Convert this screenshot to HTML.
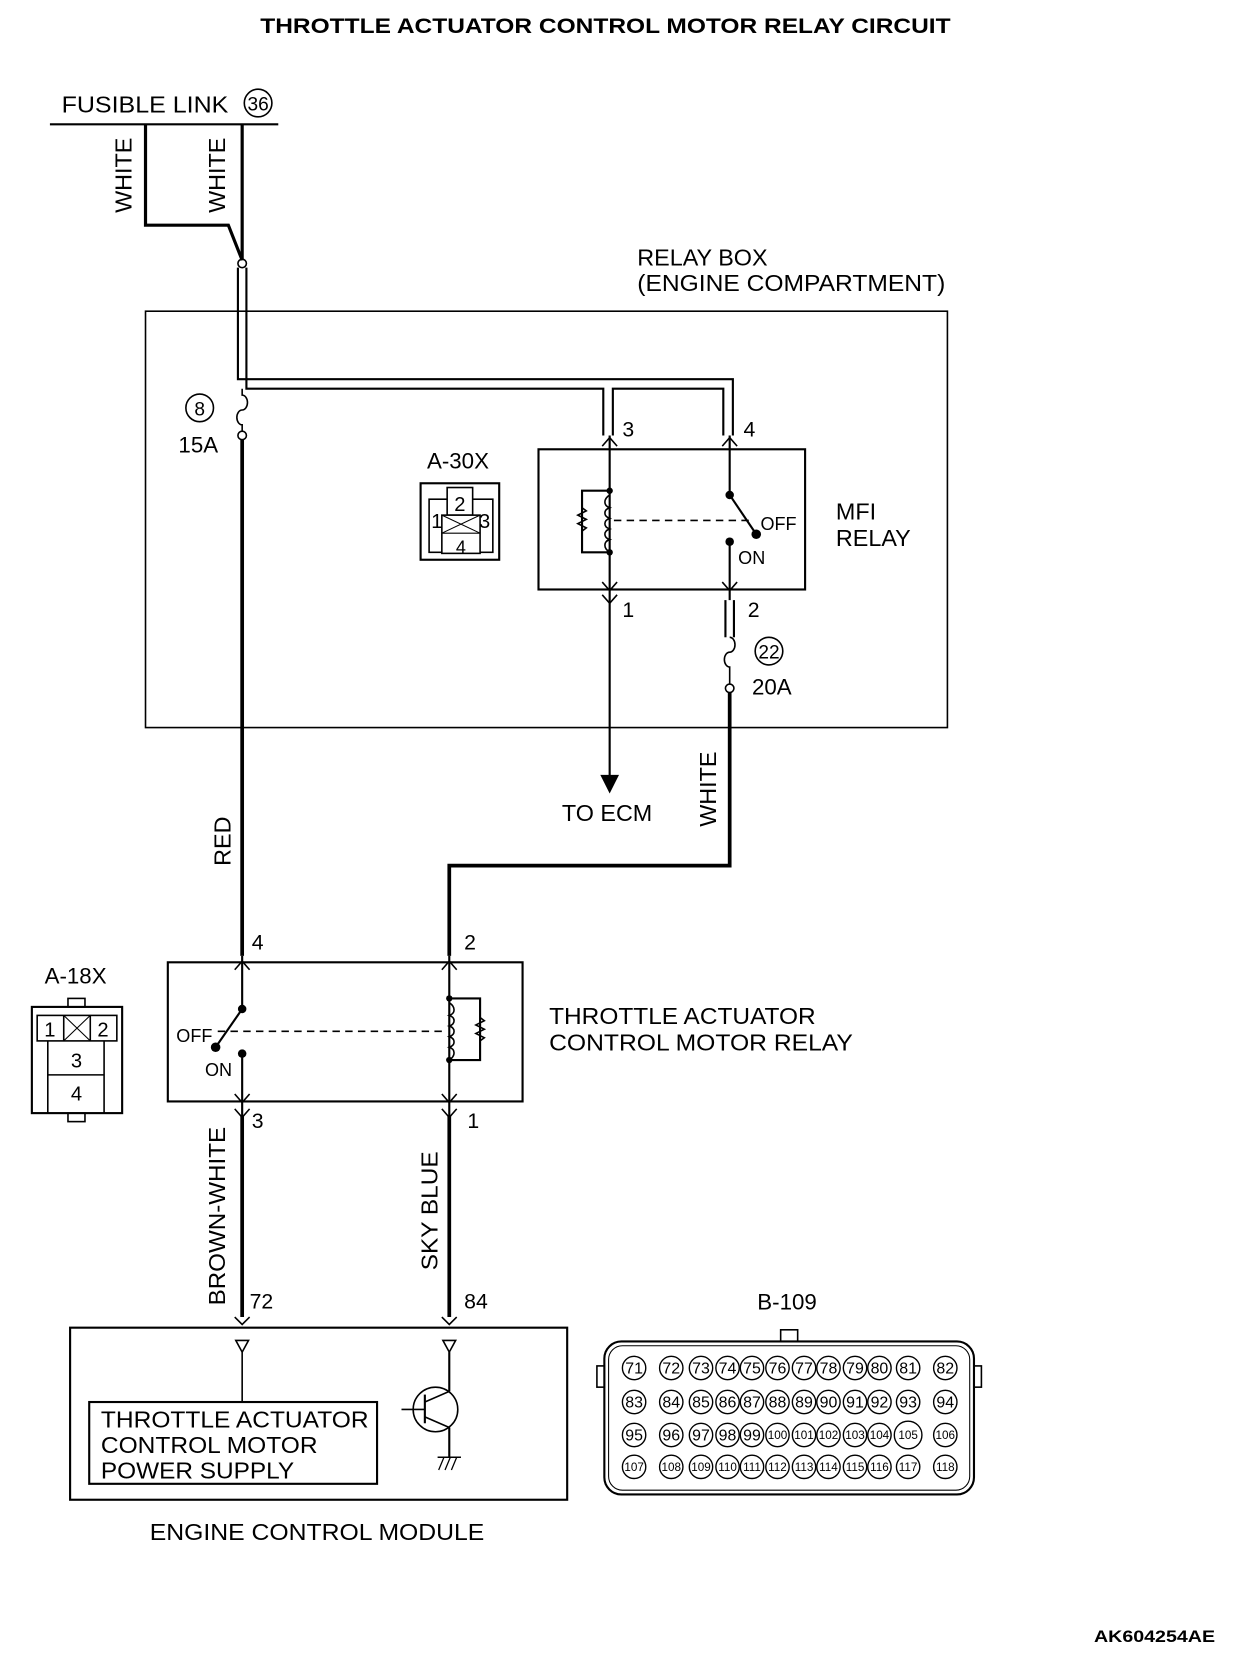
<!DOCTYPE html>
<html><head><meta charset="utf-8"><style>
html,body{margin:0;padding:0;background:#fff;}
svg{display:block;}
text{font-family:"Liberation Sans",sans-serif;fill:#000;}
</style></head><body>
<svg width="1248" height="1658" viewBox="0 0 1175 1561" preserveAspectRatio="none" xmlns="http://www.w3.org/2000/svg">
<g fill="none" stroke="#000">
<line x1="47" y1="117" x2="262" y2="117" stroke-width="2"/>
<circle cx="243" cy="97" r="13" stroke-width="1.5"/>
<polyline points="137,117 137,212 215,212 228,245" stroke-width="3"/>
<line x1="228" y1="117" x2="228" y2="245" stroke-width="3"/>
<circle cx="228" cy="248" r="4" stroke-width="1.5"/>
<polyline points="224,252 224,357 690,357 690,410" stroke-width="2"/>
<polyline points="232,252 232,366 568,366 568,410" stroke-width="2"/>
<polyline points="577,410 577,366 681,366 681,410" stroke-width="2"/>
<path d="M228,366 L228,372 A5,7 0 0 1 228,386 A5,7 0 0 0 228,400 L228,406" stroke-width="1.5"/>
<circle cx="228" cy="410" r="4" stroke-width="1.5"/>
<line x1="228" y1="414" x2="228" y2="900" stroke-width="3.5"/>
<circle cx="188" cy="384" r="13" stroke-width="1.5"/>
<rect x="137" y="293" width="755" height="392" stroke-width="1.5"/>
<rect x="396" y="455" width="74" height="72" stroke-width="2"/>
<rect x="404" y="470" width="60" height="50" stroke-width="1.5"/>
<rect x="421" y="459" width="24" height="26" stroke-width="1.5" fill="#fff"/>
<rect x="416" y="485" width="36" height="36" stroke-width="1.5" fill="#fff"/>
<line x1="416" y1="485" x2="452" y2="502" stroke-width="1"/>
<line x1="452" y1="485" x2="416" y2="502" stroke-width="1"/>
<line x1="416" y1="502" x2="452" y2="502" stroke-width="1"/>
<rect x="507" y="423" width="251" height="132" stroke-width="2"/>
<line x1="574" y1="410" x2="574" y2="735" stroke-width="2"/>
<polyline points="567,420 574,412 581,420" stroke-width="1.5"/>
<polyline points="567,548 574,556 581,548" stroke-width="1.5"/>
<polyline points="567,560 574,568 581,560" stroke-width="1.5"/>
<polygon points="566,730 582,730 574,746" fill="#000"/>
<polyline points="574,462 548,462 548,520 574,520" stroke-width="2"/>
<path d="M548,478 l4,3 -8,4 8,4 -8,4 8,4 -4,3" stroke-width="1.5"/>
<path d="M574,466 c-6,4 -6,10 0,12 c-6,2 -6,8 0,10 c-6,2 -6,8 0,10 c-6,2 -6,8 0,10 c-6,2 -6,8 0,12" stroke-width="1.5"/>
<line x1="578" y1="490" x2="705" y2="490" stroke-width="1.5" stroke-dasharray="7,5"/>
<line x1="687" y1="410" x2="687" y2="466" stroke-width="2"/>
<line x1="687" y1="466" x2="712" y2="503" stroke-width="2"/>
<line x1="687" y1="510" x2="687" y2="565" stroke-width="2"/>
<polyline points="680,420 687,412 694,420" stroke-width="1.5"/>
<polyline points="680,548 687,556 694,548" stroke-width="1.5"/>
<line x1="683" y1="565" x2="683" y2="600" stroke-width="2"/>
<line x1="691" y1="565" x2="691" y2="600" stroke-width="2"/>
<path d="M687,600 A5,7 0 0 1 687,614 A5,7 0 0 0 687,628 L687,644" stroke-width="1.5"/>
<circle cx="687" cy="648" r="4" stroke-width="1.5"/>
<circle cx="724" cy="613" r="13" stroke-width="1.5"/>
<polyline points="687,652 687,815 423,815 423,900" stroke-width="3.5"/>
<rect x="158" y="906" width="334" height="131" stroke-width="2"/>
<polyline points="221,913 228,905 235,913" stroke-width="1.5"/>
<polyline points="416,913 423,905 430,913" stroke-width="1.5"/>
<polyline points="221,1030 228,1038 235,1030" stroke-width="1.5"/>
<polyline points="416,1030 423,1038 430,1030" stroke-width="1.5"/>
<polyline points="221,1044 228,1052 235,1044" stroke-width="1.5"/>
<polyline points="416,1044 423,1052 430,1044" stroke-width="1.5"/>
<line x1="228" y1="900" x2="228" y2="950" stroke-width="2"/>
<line x1="228" y1="950" x2="203" y2="986" stroke-width="2"/>
<line x1="228" y1="992" x2="228" y2="1240" stroke-width="2"/>
<line x1="228" y1="1050" x2="228" y2="1240" stroke-width="3.5"/>
<line x1="205" y1="971" x2="420" y2="971" stroke-width="1.5" stroke-dasharray="7,5"/>
<line x1="423" y1="900" x2="423" y2="1240" stroke-width="2"/>
<line x1="423" y1="1050" x2="423" y2="1240" stroke-width="3.5"/>
<polyline points="423,940 452,940 452,998 423,998" stroke-width="2"/>
<path d="M452,958 l4,3 -8,4 8,4 -8,4 8,4 -4,3" stroke-width="1.5"/>
<path d="M423,944 c6,4 6,10 0,12 c6,2 6,8 0,10 c6,2 6,8 0,10 c6,2 6,8 0,10 c6,2 6,8 0,12" stroke-width="1.5"/>
<rect x="30" y="948" width="85" height="100" stroke-width="2"/>
<rect x="64" y="940" width="16" height="8" stroke-width="1.5"/>
<rect x="64" y="1048" width="16" height="8" stroke-width="1.5"/>
<rect x="35" y="956" width="75" height="24" stroke-width="1.5"/>
<line x1="60" y1="956" x2="60" y2="980" stroke-width="1.5"/>
<line x1="85" y1="956" x2="85" y2="980" stroke-width="1.5"/>
<line x1="60" y1="956" x2="85" y2="980" stroke-width="1"/>
<line x1="85" y1="956" x2="60" y2="980" stroke-width="1"/>
<polyline points="45,980 45,1048" stroke-width="1.5"/>
<polyline points="98,980 98,1048" stroke-width="1.5"/>
<line x1="45" y1="1012" x2="98" y2="1012" stroke-width="1.5"/>
<polyline points="221,1240 228,1247 235,1240" stroke-width="1.5"/>
<polyline points="416,1240 423,1247 430,1240" stroke-width="1.5"/>
<rect x="66" y="1250" width="468" height="162" stroke-width="2"/>
<polygon points="222,1262 234,1262 228,1273" stroke-width="1.5"/>
<polygon points="417,1262 429,1262 423,1273" stroke-width="1.5"/>
<line x1="228" y1="1273" x2="228" y2="1320" stroke-width="1.5"/>
<rect x="84" y="1320" width="271" height="77" stroke-width="2"/>
<line x1="423" y1="1273" x2="423" y2="1310" stroke-width="2"/>
<circle cx="410" cy="1327" r="21" stroke-width="1.5"/>
<line x1="400" y1="1313" x2="400" y2="1340" stroke-width="2"/>
<line x1="378" y1="1327" x2="400" y2="1327" stroke-width="1.5"/>
<line x1="400" y1="1320" x2="423" y2="1310" stroke-width="1.5"/>
<line x1="400" y1="1334" x2="423" y2="1344" stroke-width="1.5"/>
<line x1="423" y1="1344" x2="423" y2="1372" stroke-width="2"/>
<line x1="412" y1="1372" x2="434" y2="1372" stroke-width="1.5"/>
<path d="M413,1384 l5,-12 M419,1384 l5,-12 M425,1384 l5,-12" stroke-width="1.2"/>
<rect x="735" y="1252" width="16" height="11" stroke-width="1.5"/>
<rect x="569" y="1263" width="348" height="144" rx="16" stroke-width="2"/>
<rect x="573" y="1267" width="340" height="136" rx="13" stroke-width="1"/>
<rect x="562" y="1286" width="7" height="20" stroke-width="1.5"/>
<rect x="917" y="1286" width="7" height="20" stroke-width="1.5"/>
</g>
<g fill="#000">
<circle cx="574" cy="462" r="3"/><circle cx="574" cy="520" r="3"/>
<circle cx="687" cy="466" r="4"/><circle cx="712" cy="503" r="4.5"/><circle cx="687" cy="510" r="4"/>
<circle cx="228" cy="950" r="4"/><circle cx="203" cy="986" r="4.5"/><circle cx="228" cy="992" r="4"/>
<circle cx="423" cy="940" r="3"/><circle cx="423" cy="998" r="3"/>
</g>
<text x="570" y="31" font-size="20" font-weight="bold" text-anchor="middle" textLength="650" lengthAdjust="spacingAndGlyphs">THROTTLE ACTUATOR CONTROL MOTOR RELAY CIRCUIT</text>
<text x="58" y="106" font-size="22" textLength="157" lengthAdjust="spacingAndGlyphs">FUSIBLE LINK</text>
<text x="243" y="104" font-size="18" text-anchor="middle">36</text>
<text transform="translate(124,165) rotate(-90)" font-size="22" text-anchor="middle">WHITE</text>
<text transform="translate(212,165) rotate(-90)" font-size="22" text-anchor="middle">WHITE</text>
<text x="600" y="250" font-size="22">RELAY BOX</text>
<text x="600" y="274" font-size="22" textLength="290" lengthAdjust="spacingAndGlyphs">(ENGINE COMPARTMENT)</text>
<text x="188" y="391" font-size="18" text-anchor="middle">8</text>
<text x="168" y="426" font-size="21">15A</text>
<text x="402" y="441" font-size="21">A-30X</text>
<text x="433" y="481" font-size="19" text-anchor="middle">2</text>
<text x="406" y="497" font-size="19">1</text>
<text x="451" y="497" font-size="19">3</text>
<text x="434" y="521" font-size="17" text-anchor="middle">4</text>
<text x="586" y="411" font-size="20">3</text>
<text x="700" y="411" font-size="20">4</text>
<text x="586" y="581" font-size="20">1</text>
<text x="704" y="581" font-size="20">2</text>
<text x="716" y="499" font-size="17">OFF</text>
<text x="695" y="531" font-size="17">ON</text>
<text x="787" y="489" font-size="22">MFI</text>
<text x="787" y="514" font-size="22">RELAY</text>
<text x="724" y="620" font-size="18" text-anchor="middle">22</text>
<text x="708" y="654" font-size="21">20A</text>
<text x="529" y="773" font-size="22">TO ECM</text>
<text transform="translate(674,743) rotate(-90)" font-size="22" text-anchor="middle">WHITE</text>
<text transform="translate(217,792) rotate(-90)" font-size="22" text-anchor="middle">RED</text>
<text x="237" y="894" font-size="20">4</text>
<text x="437" y="894" font-size="20">2</text>
<text x="237" y="1062" font-size="20">3</text>
<text x="440" y="1062" font-size="20">1</text>
<text x="166" y="981" font-size="17">OFF</text>
<text x="193" y="1013" font-size="17">ON</text>
<text x="517" y="964" font-size="22" textLength="251" lengthAdjust="spacingAndGlyphs">THROTTLE ACTUATOR</text>
<text x="517" y="989" font-size="22" textLength="286" lengthAdjust="spacingAndGlyphs">CONTROL MOTOR RELAY</text>
<text x="42" y="926" font-size="21">A-18X</text>
<text x="47" y="976" font-size="19" text-anchor="middle">1</text>
<text x="97" y="976" font-size="19" text-anchor="middle">2</text>
<text x="72" y="1005" font-size="19" text-anchor="middle">3</text>
<text x="72" y="1036" font-size="19" text-anchor="middle">4</text>
<text transform="translate(212,1145) rotate(-90)" font-size="22" text-anchor="middle" textLength="168" lengthAdjust="spacingAndGlyphs">BROWN-WHITE</text>
<text transform="translate(412,1140) rotate(-90)" font-size="22" text-anchor="middle" textLength="112" lengthAdjust="spacingAndGlyphs">SKY BLUE</text>
<text x="235" y="1232" font-size="20">72</text>
<text x="437" y="1232" font-size="20">84</text>
<text x="95" y="1344" font-size="22" textLength="252" lengthAdjust="spacingAndGlyphs">THROTTLE ACTUATOR</text>
<text x="95" y="1368" font-size="22" textLength="204" lengthAdjust="spacingAndGlyphs">CONTROL MOTOR</text>
<text x="95" y="1392" font-size="22" textLength="182" lengthAdjust="spacingAndGlyphs">POWER SUPPLY</text>
<text x="141" y="1450" font-size="22" textLength="315" lengthAdjust="spacingAndGlyphs">ENGINE CONTROL MODULE</text>
<text x="713" y="1233" font-size="21">B-109</text>
<text x="1030" y="1546" font-size="16" font-weight="bold" textLength="114" lengthAdjust="spacingAndGlyphs">AK604254AE</text>
<g fill="none" stroke="#000" stroke-width="1.3">
<circle cx="597" cy="1288" r="11"/><circle cx="632" cy="1288" r="11"/><circle cx="660" cy="1288" r="11"/><circle cx="685" cy="1288" r="11"/><circle cx="708" cy="1288" r="11"/><circle cx="732" cy="1288" r="11"/><circle cx="757" cy="1288" r="11"/><circle cx="780" cy="1288" r="11"/><circle cx="805" cy="1288" r="11"/><circle cx="828" cy="1288" r="11"/><circle cx="855" cy="1288" r="11"/><circle cx="890" cy="1288" r="11"/>
<circle cx="597" cy="1320" r="11"/><circle cx="632" cy="1320" r="11"/><circle cx="660" cy="1320" r="11"/><circle cx="685" cy="1320" r="11"/><circle cx="708" cy="1320" r="11"/><circle cx="732" cy="1320" r="11"/><circle cx="757" cy="1320" r="11"/><circle cx="780" cy="1320" r="11"/><circle cx="805" cy="1320" r="11"/><circle cx="828" cy="1320" r="11"/><circle cx="855" cy="1320" r="11"/><circle cx="890" cy="1320" r="11"/>
<circle cx="597" cy="1351" r="11"/><circle cx="632" cy="1351" r="11"/><circle cx="660" cy="1351" r="11"/><circle cx="685" cy="1351" r="11"/><circle cx="708" cy="1351" r="11"/><circle cx="732" cy="1351" r="11"/><circle cx="757" cy="1351" r="11"/><circle cx="780" cy="1351" r="11"/><circle cx="805" cy="1351" r="11"/><circle cx="828" cy="1351" r="11"/><circle cx="855" cy="1351" r="13"/><circle cx="890" cy="1351" r="11"/>
<circle cx="597" cy="1381" r="11"/><circle cx="632" cy="1381" r="11"/><circle cx="660" cy="1381" r="11"/><circle cx="685" cy="1381" r="11"/><circle cx="708" cy="1381" r="11"/><circle cx="732" cy="1381" r="11"/><circle cx="757" cy="1381" r="11"/><circle cx="780" cy="1381" r="11"/><circle cx="805" cy="1381" r="11"/><circle cx="828" cy="1381" r="11"/><circle cx="855" cy="1381" r="11"/><circle cx="890" cy="1381" r="11"/>
</g>
<g font-size="15" text-anchor="middle">
<text x="597" y="1293">71</text><text x="632" y="1293">72</text><text x="660" y="1293">73</text><text x="685" y="1293">74</text><text x="708" y="1293">75</text><text x="732" y="1293">76</text><text x="757" y="1293">77</text><text x="780" y="1293">78</text><text x="805" y="1293">79</text><text x="828" y="1293">80</text><text x="855" y="1293">81</text><text x="890" y="1293">82</text>
<text x="597" y="1325">83</text><text x="632" y="1325">84</text><text x="660" y="1325">85</text><text x="685" y="1325">86</text><text x="708" y="1325">87</text><text x="732" y="1325">88</text><text x="757" y="1325">89</text><text x="780" y="1325">90</text><text x="805" y="1325">91</text><text x="828" y="1325">92</text><text x="855" y="1325">93</text><text x="890" y="1325">94</text>
</g>
<g font-size="11" text-anchor="middle">
<text x="597" y="1356" font-size="15">95</text><text x="632" y="1356" font-size="15">96</text><text x="660" y="1356" font-size="15">97</text><text x="685" y="1356" font-size="15">98</text><text x="708" y="1356" font-size="15">99</text><text x="732" y="1355">100</text><text x="757" y="1355">101</text><text x="780" y="1355">102</text><text x="805" y="1355">103</text><text x="828" y="1355">104</text><text x="855" y="1355">105</text><text x="890" y="1355">106</text>
<text x="597" y="1385">107</text><text x="632" y="1385">108</text><text x="660" y="1385">109</text><text x="685" y="1385">110</text><text x="708" y="1385">111</text><text x="732" y="1385">112</text><text x="757" y="1385">113</text><text x="780" y="1385">114</text><text x="805" y="1385">115</text><text x="828" y="1385">116</text><text x="855" y="1385">117</text><text x="890" y="1385">118</text>
</g>
</svg>
</body></html>
